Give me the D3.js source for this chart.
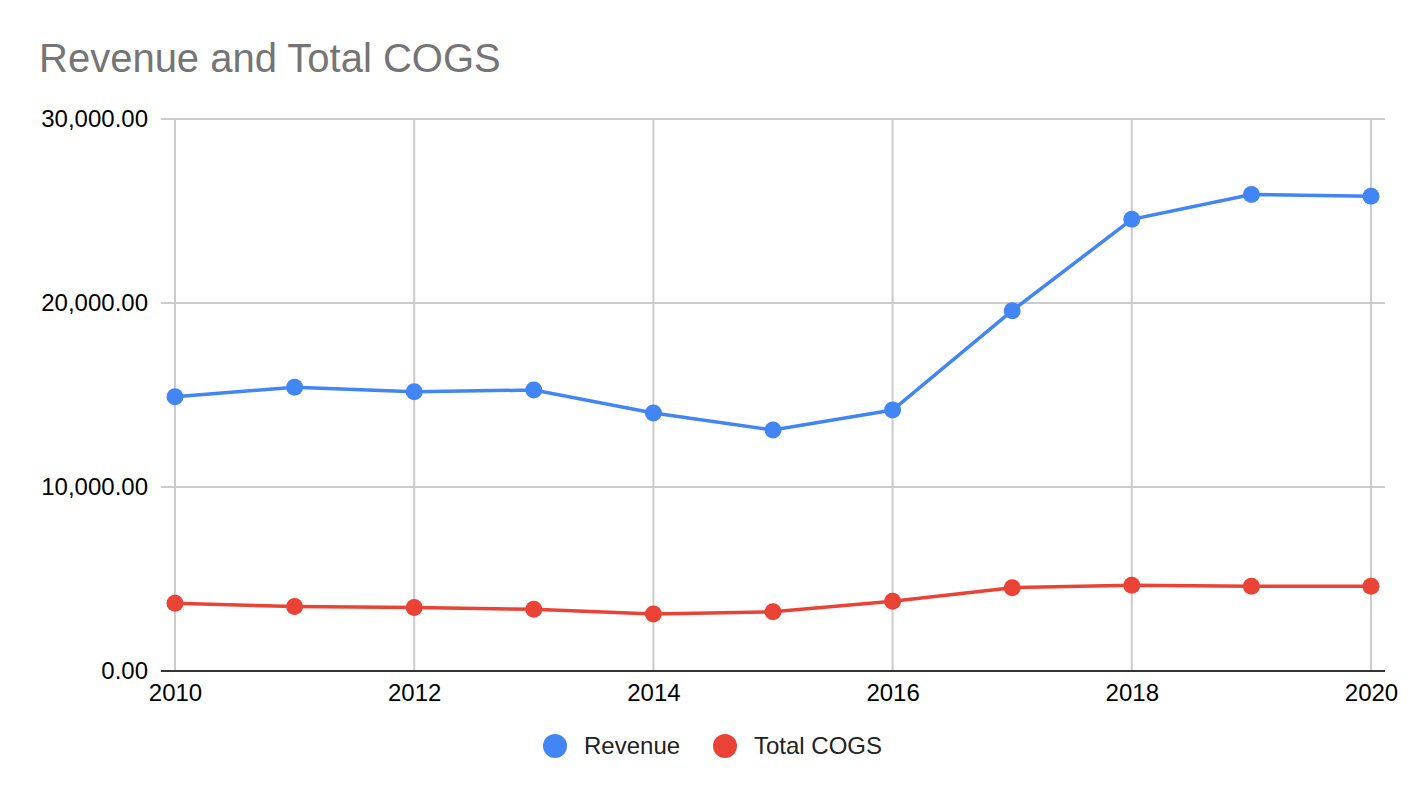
<!DOCTYPE html>
<html>
<head>
<meta charset="utf-8">
<script src="https://cdn.jsdelivr.net/npm/d3@7"></script>
<style>
  body { margin: 0; background: #fff; }
  text { font-family: "Liberation Sans", Arial, sans-serif; }
</style>
</head>
<body>
<svg id="chart" width="1424" height="798"></svg>
<script>
var years = [2010, 2011, 2012, 2013, 2014, 2015, 2016, 2017, 2018, 2019, 2020];
var revenue = [14900, 15420, 15180, 15270, 14020, 13100, 14180, 19580, 24550, 25900, 25800];
var totalCogs = [3680, 3500, 3450, 3350, 3100, 3220, 3790, 4530, 4660, 4600, 4600];
var yTicks = [0, 10000, 20000, 30000];
var xTicks = [2010, 2012, 2014, 2016, 2018, 2020];

var series = [
    { name: "Revenue", values: revenue, color: "#4285F4" },
    { name: "Total COGS", values: totalCogs, color: "#EA4335" }
];

var svg = d3.select("#chart");

var x = d3.scaleLinear().domain([2010, 2020]).range([175, 1371]);
var y = d3.scaleLinear().domain([0, 30000]).range([671, 119]);

// Title
svg.append("text")
    .attr("x", 39)
    .attr("y", 72)
    .style("font-size", "40px")
    .style("fill", "#757575")
    .text("Revenue and Total COGS");

// horizontal gridlines
svg.append("g")
    .selectAll("line")
    .data(yTicks.filter(function (d) { return d > 0; }))
    .enter()
    .append("line")
    .attr("x1", 161)
    .attr("x2", 1385)
    .attr("y1", function (d) { return y(d); })
    .attr("y2", function (d) { return y(d); })
    .attr("stroke", "#cccccc")
    .attr("stroke-width", 2);

// vertical gridlines
svg.append("g")
    .selectAll("line")
    .data(xTicks)
    .enter()
    .append("line")
    .attr("x1", function (d) { return x(d); })
    .attr("x2", function (d) { return x(d); })
    .attr("y1", y(30000))
    .attr("y2", y(0))
    .attr("stroke", "#cccccc")
    .attr("stroke-width", 2);

var yAxis = svg.append("g")
    .attr("transform", "translate(161,0)")
    .call(d3.axisLeft(y).tickValues(yTicks).tickSize(0).tickPadding(13)
        .tickFormat(d3.format(",.2f")));
yAxis.select(".domain").remove();
yAxis.selectAll("text")
    .style("font-size", "24px")
    .style("fill", "#000")
    .style("font-family", "Liberation Sans, Arial, sans-serif");

var xAxis = svg.append("g")
    .attr("transform", "translate(0," + y(0) + ")")
    .call(d3.axisBottom(x).tickValues(xTicks).tickSize(0).tickPadding(13)
        .tickFormat(d3.format("d")));
xAxis.select(".domain").remove();
xAxis.selectAll("text")
    .style("font-size", "24px")
    .style("fill", "#000")
    .style("font-family", "Liberation Sans, Arial, sans-serif");

// baseline
svg.append("line")
    .attr("x1", 161)
    .attr("x2", 1385)
    .attr("y1", y(0))
    .attr("y2", y(0))
    .attr("stroke", "#333333")
    .attr("stroke-width", 2);

var line = d3.line()
    .x(function (d, i) { return x(years[i]); })
    .y(function (d) { return y(d); });

series.forEach(function (s) {
    svg.append("path")
        .datum(s.values)
        .attr("d", line)
        .style("fill", "none")
        .style("stroke", s.color)
        .style("stroke-width", 3.5);

    svg.append("g")
        .selectAll("circle")
        .data(s.values)
        .enter()
        .append("circle")
        .attr("cx", function (d, i) { return x(years[i]); })
        .attr("cy", function (d) { return y(d); })
        .attr("r", 8.5)
        .style("fill", s.color);
});

// Legend
var legendX = [555, 725];
var legend = svg.append("g")
    .selectAll("g")
    .data(series)
    .enter()
    .append("g")
    .attr("transform", function (d, i) { return "translate(" + legendX[i] + ",746)"; });

legend.append("circle")
    .attr("r", 12)
    .style("fill", function (d) { return d.color; });

legend.append("text")
    .attr("x", 29)
    .attr("y", 8)
    .style("font-size", "24px")
    .style("fill", "#222")
    .text(function (d) { return d.name; });
</script>
</body>
</html>
